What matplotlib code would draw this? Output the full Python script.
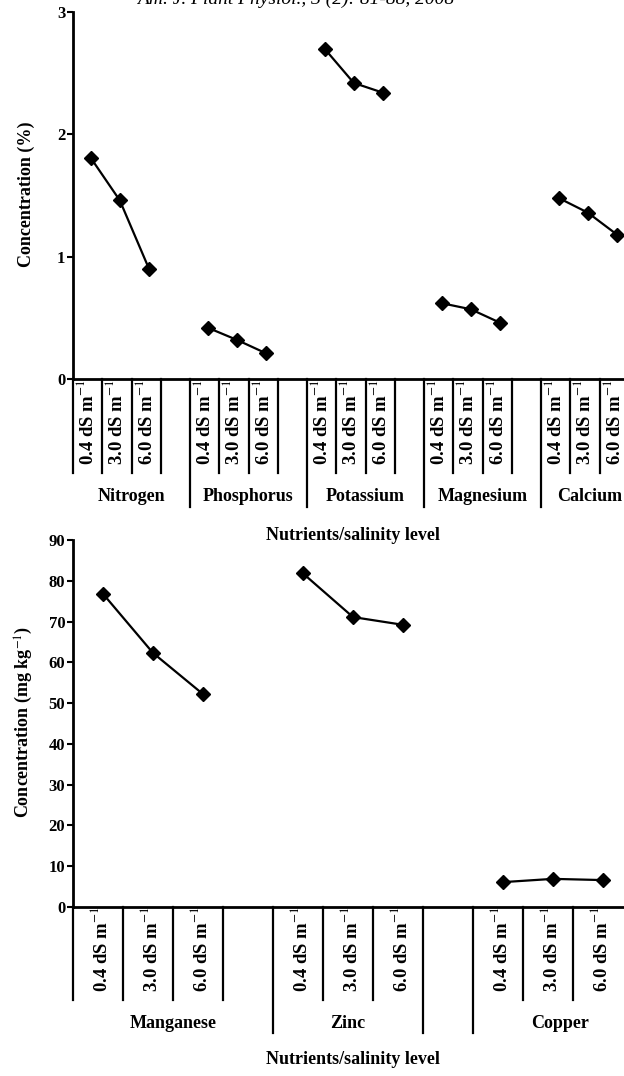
'''
Leaf nutrient concentration under three salinity levels.
Macro nutrients on top (%), micro nutrients below (mg/kg).
'''
import matplotlib
matplotlib.use('Agg')

from matplotlib import pyplot as plt

# salinity levels shown under every nutrient
levels = ["0.4 dS m$^{-1}$", "3.0 dS m$^{-1}$", "6.0 dS m$^{-1}$"]

# top panel: macro nutrients, concentration (%)
macro_names = ["Nitrogen", "Phosphorus", "Potassium", "Magnesium", "Calcium"]
nitrogen = [1.81, 1.46, 0.90]
phosphorus = [0.42, 0.32, 0.21]
potassium = [2.70, 2.42, 2.34]
magnesium = [0.62, 0.57, 0.46]
calcium = [1.48, 1.36, 1.18]
macro_values = [nitrogen, phosphorus, potassium, magnesium, calcium]

# bottom panel: micro nutrients, concentration (mg/kg)
micro_names = ["Manganese", "Zinc", "Copper"]
manganese = [76.8, 62.3, 52.2]
zinc = [81.8, 71.1, 69.2]
copper = [6.1, 6.9, 6.6]
micro_values = [manganese, zinc, copper]

SERIF = ['Liberation Serif', 'DejaVu Serif']


def below(ax, px):
    # axes fraction for a distance in pixels under the x axis
    h = ax.get_position().height * ax.figure.get_figheight() * ax.figure.dpi
    return -px / h


def style_axis(ax, ylim, yticks):
    ax.set_ylim(ylim)
    ax.set_yticks(yticks)
    ax.spines['top'].set_visible(False)
    ax.spines['right'].set_visible(False)
    ax.spines['left'].set_linewidth(2.0)
    ax.spines['bottom'].set_linewidth(2.0)
    ax.set_xticks([])
    ax.tick_params(axis='y', direction='out', length=4.5, width=1.5, pad=1)
    for lab in ax.get_yticklabels():
        lab.set_family(SERIF)
        lab.set_fontweight('bold')
        lab.set_fontsize(12)


def draw_group_axis(ax, slots, shorts, longs, short_px, long_px, lab_px, cat_px, names, centers, label_off):
    tr = ax.get_xaxis_transform()
    for x in shorts:
        ax.plot([x, x], [0, below(ax, short_px)], transform=tr, color='black', lw=1.6, clip_on=False)
    for x in longs:
        ax.plot([x, x], [0, below(ax, long_px)], transform=tr, color='black', lw=1.6, clip_on=False)
    for s in slots:
        for i in range(3):
            ax.text(s + i + label_off, below(ax, lab_px), levels[i], transform=tr, rotation=90,
                    rotation_mode='anchor', ha='left', va='center', fontsize=13.5,
                    family=SERIF, fontweight='bold')
    for name, c in zip(names, centers):
        ax.text(c, below(ax, cat_px), name, transform=tr, ha='center', va='center',
                fontsize=13, family=SERIF, fontweight='bold')


def main():
    plt.rcParams['mathtext.fontset'] = 'stix'
    fig = plt.figure(figsize=(6.24, 10.76), dpi=100)

    # journal header, mostly cut off at the top edge (as in the scan)
    fig.text(296 / 624, 1 - 4 / 1076, "Am. J. Plant Physiol., 3 (2): 81-88, 2008",
             ha='center', va='baseline', fontsize=14, family=SERIF, style='italic')

    # ---- top panel ----
    ax1 = fig.add_axes([73 / 624, 1 - 379 / 1076, 1 - 73 / 624, 367 / 1076])
    ax1.set_xlim(0, (624 - 73) / 29.25)
    style_axis(ax1, (0, 3), [0, 1, 2, 3])
    for g, vals in enumerate(macro_values):
        xs = [4 * g + i + 0.6 for i in range(3)]
        ax1.plot(xs, vals, color='black', lw=1.6, marker='D', ms=7.5, clip_on=False)
    top_slots = [4 * g for g in range(5)]
    top_shorts = [0] + [4 * g + k for g in range(5) for k in (1, 2, 3)]
    top_longs = [4, 8, 12, 16]
    draw_group_axis(ax1, top_slots, top_shorts, top_longs, 94, 128, 86, 118,
                    macro_names, [2, 6, 10, 14, 17.65], 0.47)
    fig.text(353 / 624, 1 - 535 / 1076, "Nutrients/salinity level", ha='center', va='center',
             fontsize=13, family=SERIF, fontweight='bold')
    fig.text(26 / 624, 1 - 194 / 1076, "Concentration (%)", rotation=90, ha='center',
             va='center', fontsize=13, family=SERIF, fontweight='bold')

    # ---- bottom panel ----
    ax2 = fig.add_axes([73 / 624, 1 - 907 / 1076, 1 - 73 / 624, 367 / 1076])
    ax2.set_xlim(0, (624 - 73) / 50)
    style_axis(ax2, (0, 90), list(range(0, 91, 10)))
    for s, vals in zip([0, 4, 8], micro_values):
        xs = [s + i + 0.6 for i in range(3)]
        ax2.plot(xs, vals, color='black', lw=1.6, marker='D', ms=7.5, clip_on=False)
    draw_group_axis(ax2, [0, 4, 8], [0, 1, 2, 3, 5, 6, 9, 10], [4, 7, 8], 93, 126, 85, 116,
                    micro_names, [2, 5.5, 9.75], 0.55)
    fig.text(353 / 624, 1 - 1060 / 1076, "Nutrients/salinity level", ha='center', va='center',
             fontsize=13, family=SERIF, fontweight='bold')
    fig.text(24 / 624, 1 - 722 / 1076, "Concentration (mg kg$^{-1}$)", rotation=90,
             ha='center', va='center', fontsize=13, family=SERIF, fontweight='bold')

    plt.savefig("out.png", dpi=100)


if __name__ == '__main__':
    main()
